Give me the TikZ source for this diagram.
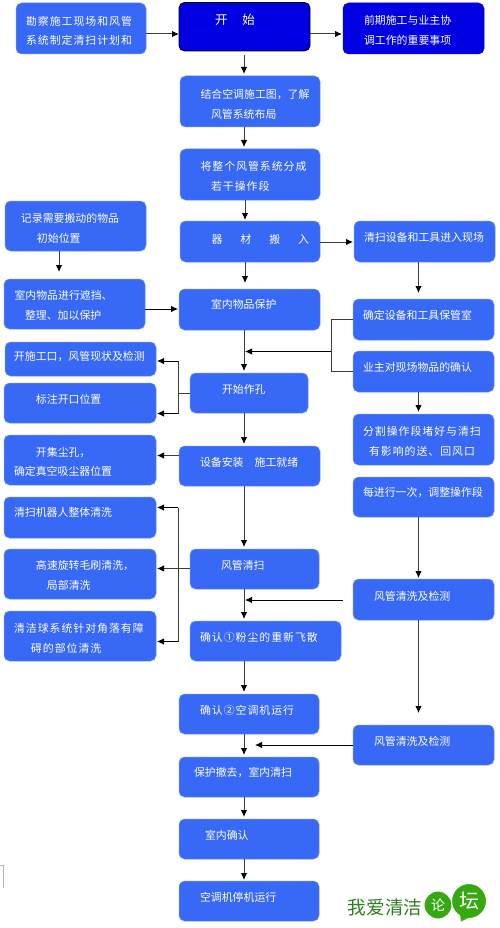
\documentclass[tikz,border=0pt]{standalone}
\usepackage{fontspec}
\setmainfont{Noto Sans CJK SC}
\newfontfamily\cjkw[LetterSpace=9]{Noto Sans CJK SC}
\usetikzlibrary{arrows.meta}
\definecolor{boxblue}{HTML}{3768F6}
\definecolor{boxedge}{HTML}{6F93F5}
\definecolor{deepblue}{HTML}{0000E2}
\definecolor{logogreen}{HTML}{2F7F1E}
\definecolor{bubble}{HTML}{35A812}
\definecolor{shaft}{HTML}{3C3C3C}
\tikzset{
  x=1pt,y=-1pt,
  blockbox/.style={draw=boxedge,line width=0.5pt,fill=boxblue,rounded corners=5.5pt,text=white,inner sep=0pt,outer sep=0pt},
  darkbox/.style={blockbox,draw=deepblue,fill=deepblue},
  startbox/.style={blockbox,draw=black,line width=0.9pt,fill=deepblue},
  arr/.style={draw=shaft,line width=1pt,-{Latex[length=7pt,width=6.5pt,black]}},
  thinarr/.style={draw=black,line width=0.8pt,-{Latex[length=7pt,width=6.5pt,black]}},
  wire/.style={draw=shaft,line width=0.9pt},
  bubblenode/.style={circle,fill=bubble,draw=white,line width=1pt,text=white,inner sep=0pt}
}
\newcommand\tx[2]{\hspace*{#1pt}#2\par}
\newcommand\bx[8][blockbox]{%
  \pgfmathsetmacro\rs{(#4+#6)/2-#7-2.7}%
  \pgfmathsetmacro\bw{#5-#3}%
  \pgfmathsetmacro\bh{#6-#4}%
  \node[#1,minimum width=\bw pt,minimum height=\bh pt] (#2) at ({(#3+#5)/2},{(#4+#6)/2})
    {\raisebox{\rs pt}[0pt][0pt]{\parbox[c]{\bw pt}{\fontsize{10.9}{19.8}\selectfont #8}}};%
}
\begin{document}
\begin{tikzpicture}
\useasboundingbox (0,0) rectangle (500,928);
\fill[white] (0,0) rectangle (500,928);
% top row
\bx{survey}{16}{3}{146}{54}{30.7}{\cjkw\tx{10}{勘察施工现场和风管}\tx{10}{系统制定清扫计划和}}
\bx[startbox]{start}{179}{2.5}{310}{51}{20}{\fontsize{12.5}{20}\selectfont\tx{36}{开\hspace{15pt}始}}
\bx[darkbox]{prior}{343}{3}{484}{54}{30.5}{\tx{21}{前期施工与业主协}\tx{21}{调工作的重要事项}}
% centre column
\bx{plan}{180}{76}{320}{127}{104}{\tx{20.5}{结合空调施工图，了解}\tx{31}{风管系统布局}}
\bx{divide}{180}{149}{320}{200}{176}{\tx{20.5}{\cjkw 将整个风管系统分成}\tx{31}{若干操作段}}
\bx{bring}{180}{221}{320}{262}{239}{\tx{31.5}{器\hspace{18pt}材\hspace{18pt}搬\hspace{18pt}入}}
\bx{protect}{179}{289}{320}{330}{304}{\tx{32}{室内物品保护}}
\bx{hole}{190}{373}{308}{413}{388.7}{\tx{32}{开始作孔}}
\bx{install}{179}{446}{320}{486}{461.7}{\tx{21}{设备安装\hspace{11pt}施工就绪}}
\bx{clean}{190}{549}{319}{589}{565}{\tx{31}{风管清扫}}
\bx{checka}{190}{621}{341}{661}{637}{\cjkw\tx{10}{确认①粉尘的重新飞散}}
\bx{checkb}{179}{694}{319}{734}{710}{\cjkw\tx{21}{确认②空调机运行}}
\bx{remove}{179}{757}{319}{797}{772.7}{\tx{15}{保护撤去，室内清扫}}
\bx{room}{179}{819}{319}{859}{835}{\tx{26}{室内确认}}
\bx{stop}{179}{881}{319}{921}{896.7}{\tx{21}{空调机停机运行}}
% left column
\bx{record}{5}{201}{146}{251}{228}{\tx{16}{记录需要搬动的物品}\tx{32}{初始位置}}
\bx{cover}{4}{279}{145}{329}{305.3}{\tx{10.5}{室内物品进行遮挡、}\tx{21}{整理、加以保护}}
\bx{open}{5}{342}{156}{376}{356.7}{\tx{9}{开施工口，风管现状及检测}}
\bx{mark}{4}{383}{156}{423}{398.7}{\tx{32}{标注开口位置}}
\bx{dust}{4}{435}{156}{485}{461.7}{\tx{32}{开集尘孔，}\tx{10}{确定真空吸尘器位置}}
\bx{robot}{4}{497}{156}{538}{512.3}{\tx{10}{清扫机器人整体清洗}}
\bx{brush}{4}{549}{156}{599}{575.5}{\tx{32}{高速旋转毛刷清洗，}\tx{43}{局部清洗}}
\bx{ball}{4}{611}{156}{661}{638}{\tx{10}{\cjkw 清洁球系统针对角落有障}\tx{27}{碍的部位清洗}}
% right column
\bx{tools}{354}{221}{495}{262}{237.5}{\tx{10}{清扫设备和工具进入现场}}
\bx{store}{353}{299}{494}{340}{315}{\tx{10}{确定设备和工具保管室}}
\bx{owner}{353}{351}{494}{392}{367}{\tx{10}{业主对现场物品的确认}}
\bx{seal}{353}{414}{494}{465}{441.5}{\tx{10}{\cjkw 分割操作段堵好与清扫}\tx{16}{有影响的送、回风口}}
\bx{adjust}{353}{477}{494}{517}{492}{\tx{10}{每进行一次，调整操作段}}
\bx{testa}{353}{579}{494}{620}{595.7}{\tx{21}{风管清洗及检测}}
\bx{testb}{353}{725}{494}{765}{740.7}{\tx{21}{风管清洗及检测}}
% helper coordinates for the connector lines
\coordinate (cx) at (244,0);
\coordinate (cxb) at (245,0);
\coordinate (rx) at (418.5,0);
\coordinate (lx) at (59,0);
\coordinate (jr) at (331,0);
\coordinate (jl) at (178,0);
\coordinate (ytop) at (0,34);
\coordinate (ytools) at (0,242);
\coordinate (ycover) at (0,309);
\coordinate (yj) at (0,351.5);
\coordinate (yopen) at (0,361);
\coordinate (ymark) at (0,413.5);
\coordinate (ydust) at (0,455.5);
\coordinate (yrobot) at (0,507.5);
\coordinate (ybrush) at (0,568.5);
\coordinate (yball) at (0,641.5);
\coordinate (ytesta) at (0,600);
\coordinate (ytestb) at (0,745);
% horizontal arrows
\draw[arr] (survey.east |- ytop) -- (start.west |- ytop);
\draw[arr] (start.east |- ytop) -- ([xshift=-1pt]prior.west |- ytop);
\draw[arr] (bring.east |- ytools) -- ([xshift=-1pt]tools.west |- ytools);
\draw[thinarr] (cover.east |- ycover) -- ([xshift=-1pt]protect.west |- ycover);
\draw[arr] (install.west |- ydust) -- ([xshift=1pt]dust.east |- ydust);
\draw[arr] (clean.west |- ybrush) -- ([xshift=1pt]brush.east |- ybrush);
\draw[thinarr] ([xshift=-10pt]testa.west |- ytesta) -- (cxb |- ytesta);
\draw[thinarr] (testb.west |- ytestb) -- ([xshift=10pt]cxb |- ytestb);
% vertical arrows
\draw[arr] ([yshift=-4pt]cx |- start.south) -- ([yshift=2pt]cx |- plan.north);
\draw[arr] (cx |- plan.south) -- ([yshift=2pt]cx |- divide.north);
\draw[arr] (cxb |- divide.south) -- ([yshift=1pt]cxb |- bring.north);
\draw[arr] (cxb |- bring.south) -- ([yshift=6pt]cxb |- protect.north);
\draw[arr] (lx |- record.south) -- ([yshift=7pt]lx |- cover.north);
\draw[arr] (rx |- tools.south) -- ([yshift=6pt]rx |- store.north);
\draw[arr] (cx |- protect.south) -- ([yshift=2pt]cx |- hole.north);
\draw[arr] (cx |- hole.south) -- ([yshift=2pt]cx |- install.north);
\draw[arr] (cx |- install.south) -- ([yshift=2pt]cx |- clean.north);
\draw[arr] (cx |- clean.south) -- ([yshift=2pt]cx |- checka.north);
\draw[arr] (cx |- checka.south) -- ([yshift=2pt]cx |- checkb.north);
\draw[arr] (cx |- checkb.south) -- ([yshift=2pt]cx |- remove.north);
\draw[arr] (cx |- remove.south) -- ([yshift=2pt]cx |- room.north);
\draw[arr] (cx |- room.south) -- ([yshift=1pt]cx |- stop.north);
\draw[arr] (rx |- owner.south) -- ([yshift=2pt]rx |- seal.north);
\draw[arr] (rx |- adjust.south) -- ([yshift=1pt]rx |- testa.north);
\draw[arr] (rx |- testa.south) -- ([yshift=12pt]rx |- testb.north);
% branching connectors
\draw[wire] (store.west |- 0,319) -| (jr |- owner.west) -- (owner.west);
\draw[thinarr] (jr |- yj) -- (cxb |- yj);
\draw[wire] (hole.west) -- (jl |- hole.west);
\draw[wire] (jl |- yopen) -- (jl |- ymark);
\draw[thinarr] (jl |- yopen) -- ([xshift=1pt]open.east |- yopen);
\draw[thinarr] (jl |- ymark) -- ([xshift=1pt]mark.east |- ymark);
\draw[wire] (jl |- yrobot) -- (jl |- yball);
\draw[thinarr] (jl |- yrobot) -- ([xshift=1pt]robot.east |- yrobot);
\draw[thinarr] (jl |- yball) -- ([xshift=1pt]ball.east |- yball);
% stray mark at the lower left
\draw[black!30,line width=0.7pt] (0,865.5) -- (3,865.5) -- (3,888);
% logo
\node[text=logogreen,inner sep=0pt,font=\fontsize{18.6}{18.6}\selectfont] (logotext) at (385,907) {我爱清洁};
\node[bubblenode,minimum size=28pt,font=\fontsize{14}{14}\selectfont] (logoa) at (438,905) {论};
\node[bubblenode,minimum size=35pt,font=\fontsize{20}{20}\selectfont] (logob) at (469,901) {坛};
\fill[bubble] (460,914) -- (461,921.5) -- (472,916) -- cycle;
\end{tikzpicture}
\end{document}
